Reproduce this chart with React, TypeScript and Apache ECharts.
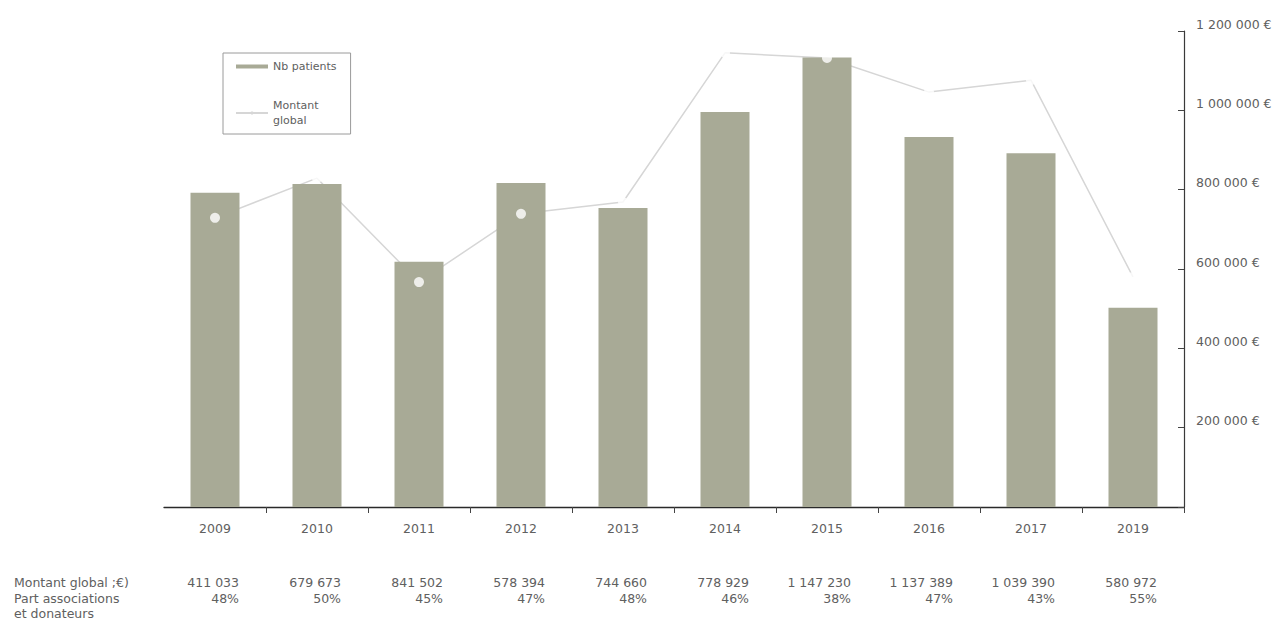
import React, { useEffect, useRef } from "react";
import * as echarts from "echarts";

const years = ["2009", "2010", "2011", "2012", "2013", "2014", "2015", "2016", "2017", "2019"];
const nbPatients = [792, 814, 618, 817, 754, 996, 1133, 933, 892, 502];
const montantGlobal = [729000, 829000, 567000, 739000, 769000, 1145000, 1132000, 1046000, 1076000, 580000];
const tableMontant = ["411 033", "679 673", "841 502", "578 394", "744 660", "778 929", "1 147 230", "1 137 389", "1 039 390", "580 972"];
const tablePart = ["48%", "50%", "45%", "47%", "48%", "46%", "38%", "47%", "43%", "55%"];
const rowLabels = ["Montant global ;€)", "Part associations", "et donateurs"];

const FONT = "DejaVu Sans";
const TEXT = "#606060";

function fmtEuro(v: number): string {
  if (v === 0) return "";
  const s = String(Math.round(v));
  const parts: string[] = [];
  for (let i = s.length; i > 0; i -= 3) parts.unshift(s.slice(Math.max(0, i - 3), i));
  return parts.join(" ") + " €";
}

export default function App() {
  const ref = useRef<HTMLDivElement>(null);
  useEffect(() => {
    if (!ref.current) return;
    const chart = echarts.init(ref.current, undefined, { renderer: "svg" });
    chart.setOption({
      animation: false,
      backgroundColor: "#ffffff",
      textStyle: { fontFamily: FONT },
      grid: { left: 164, right: 95, top: 31, bottom: 125, containLabel: false },
      legend: {
        left: 223,
        top: 53,
        orient: "vertical",
        borderColor: "#9a9a9a",
        borderWidth: 1,
        padding: [6, 14, 6, 12],
        itemGap: 24,
        itemWidth: 32,
        itemHeight: 4,
        textStyle: { fontSize: 11, color: TEXT, lineHeight: 15, fontFamily: FONT },
        data: [
          { name: "Nb patients", icon: "rect" },
          { name: "Montant global" },
        ],
        formatter: (n: string) => (n === "Montant global" ? "Montant\nglobal" : n),
      },
      xAxis: {
        type: "category",
        data: years,
        axisLine: { show: true, lineStyle: { color: "#2a2a2a", width: 1.3 } },
        axisTick: {
          show: true,
          length: 6,
          interval: (i: number) => i !== 0,
          lineStyle: { color: "#444" },
        },
        axisLabel: { color: TEXT, fontSize: 12.5, margin: 15, fontFamily: FONT },
        splitLine: { show: false },
      },
      yAxis: [
        { type: "value", min: 0, max: 1200, show: false, splitLine: { show: false } },
        {
          type: "value",
          position: "right",
          min: 0,
          max: 1200000,
          interval: 200000,
          axisLine: { show: true, lineStyle: { color: "#3a3a3a", width: 1.2 } },
          axisTick: { show: true, inside: true, length: 6, lineStyle: { color: "#444" } },
          splitLine: { show: false },
          axisLabel: {
            color: TEXT,
            fontSize: 12.5,
            margin: 12,
            verticalAlign: "bottom",
            lineHeight: 14,
            fontFamily: FONT,
            formatter: (v: number) => fmtEuro(v),
          },
        },
      ],
      series: [
        {
          name: "Montant global",
          type: "line",
          yAxisIndex: 1,
          data: montantGlobal,
          z: 1,
          showSymbol: false,
          symbol: "none",
          lineStyle: { color: "#d6d6d6", width: 1.5 },
          itemStyle: { color: "#d6d6d6" },
        },
        {
          name: "Nb patients",
          type: "bar",
          yAxisIndex: 0,
          data: nbPatients,
          z: 2,
          barWidth: 49,
          itemStyle: { color: "#a8aa96" },
        },
        {
          name: "points",
          type: "scatter",
          yAxisIndex: 1,
          data: montantGlobal,
          z: 3,
          symbol: "circle",
          symbolSize: 10,
          itemStyle: { color: "#ffffff" },
        },
      ],
    });

    const graphics: any[] = [];
    const textStyle = (t: string, align: string) => ({
      text: t,
      fill: TEXT,
      fontSize: 12.5,
      fontFamily: FONT,
      align,
      verticalAlign: "middle",
      textAlign: align,
      textVerticalAlign: "middle",
    });
    const rowY = [582, 598, 613];
    rowLabels.forEach((l, i) => {
      graphics.push({ type: "text", x: 14, y: rowY[i], style: textStyle(l, "left") });
    });
    years.forEach((y, i) => {
      const px = chart.convertToPixel({ xAxisIndex: 0 }, y) as number;
      graphics.push({ type: "text", x: px + 24, y: rowY[0], style: textStyle(tableMontant[i], "right") });
      graphics.push({ type: "text", x: px + 24, y: rowY[1], style: textStyle(tablePart[i], "right") });
    });
    chart.setOption({ graphic: graphics });

    return () => chart.dispose();
  }, []);
  return (
    <div
      ref={ref}
      style={{ position: "fixed", left: 0, top: 0, width: 1279, height: 632 }}
    />
  );
}
